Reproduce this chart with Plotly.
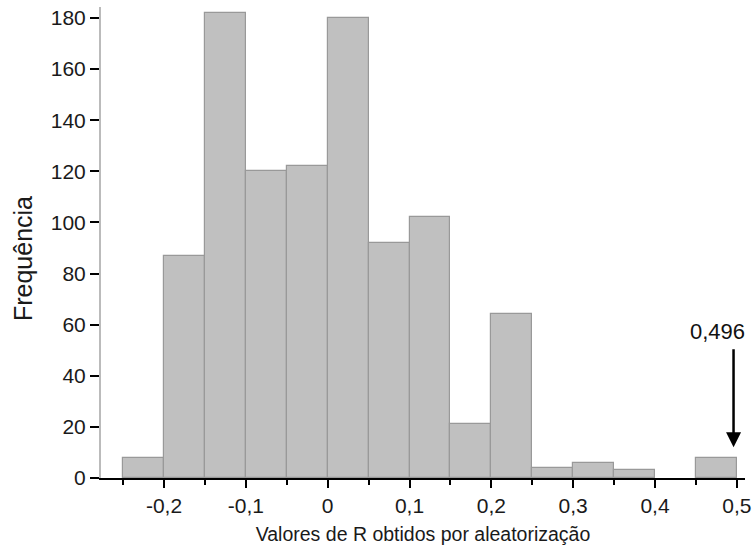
import plotly.graph_objects as go

bin_left = [-0.25, -0.20, -0.15, -0.10, -0.05, 0.00, 0.05, 0.10, 0.15, 0.20, 0.25, 0.30, 0.35, 0.40, 0.45]
counts = [8, 87, 182, 120, 122, 180, 92, 102, 21, 64, 4, 6, 3, 0, 8]
bin_width = 0.05
x_tickvals = [-0.2, -0.1, 0.0, 0.1, 0.2, 0.3, 0.4, 0.5]
x_ticktext = ["-0,2", "-0,1", "0", "0,1", "0,2", "0,3", "0,4", "0,5"]
x_minor = [-0.25, -0.15, -0.05, 0.05, 0.15, 0.25, 0.35, 0.45]
y_tickvals = [0, 20, 40, 60, 80, 100, 120, 140, 160, 180]
observed_r = 0.496
observed_label = "0,496"
x_title = "Valores de R obtidos por aleatorização"
y_title = "Frequência"

font_family = "Liberation Sans, Arial, sans-serif"

fig = go.Figure()
fig.add_trace(go.Bar(
    x=[b + bin_width / 2 for b in bin_left],
    y=counts,
    width=bin_width,
    marker=dict(color="#c0c0c0",
                line=dict(color="#999999", width=[1.2 if c > 0 else 0 for c in counts])),
    showlegend=False,
    hoverinfo="skip",
))

fig.add_annotation(
    x=observed_r, y=12, xref="x", yref="y",
    ax=observed_r, ay=51, axref="x", ayref="y",
    showarrow=True, arrowhead=2, arrowsize=1.2, arrowwidth=2.5, arrowcolor="black",
    text="",
)
fig.add_annotation(
    x=observed_r, y=51.5, xref="x", yref="y",
    text=observed_label, showarrow=False,
    font=dict(size=22, color="#111111", family=font_family),
    xanchor="right", xshift=13, yanchor="bottom",
)
fig.add_annotation(
    x=-0.121, y=0.465, xref="paper", yref="paper",
    text=y_title, textangle=-90, showarrow=False,
    font=dict(size=25, color="#1a1a1a", family=font_family),
    xanchor="center", yanchor="middle",
)

fig.update_layout(
    width=753, height=554,
    margin=dict(l=101, r=8, t=7, b=76),
    plot_bgcolor="white", paper_bgcolor="white",
    font=dict(family=font_family, size=21, color="#1a1a1a"),
    bargap=0,
    xaxis=dict(
        range=[-0.277, 0.51],
        tickmode="array", tickvals=x_tickvals, ticktext=x_ticktext,
        ticks="outside", ticklen=8, tickwidth=2, tickcolor="black",
        showline=True, linecolor="black", linewidth=2,
        showgrid=False, zeroline=False, automargin=False,
        tickfont=dict(size=21),
        minor=dict(tickmode="array", tickvals=x_minor, ticks="outside", ticklen=5, tickwidth=2, tickcolor="black"),
        title=dict(text=x_title, font=dict(size=19.5), standoff=11),
    ),
    yaxis=dict(
        range=[0, 184.3],
        tickmode="array", tickvals=y_tickvals,
        ticks="outside", ticklen=9, tickwidth=2, tickcolor="black",
        showline=True, linecolor="#bbbbbb", linewidth=2,
        showgrid=False, zeroline=False, automargin=False,
        tickfont=dict(size=21),
    ),
)

fig.write_html(
    "out.html",
    config={"displayModeBar": False},
    post_script="document.body.style.margin='0px';document.body.style.overflow='hidden';",
)
